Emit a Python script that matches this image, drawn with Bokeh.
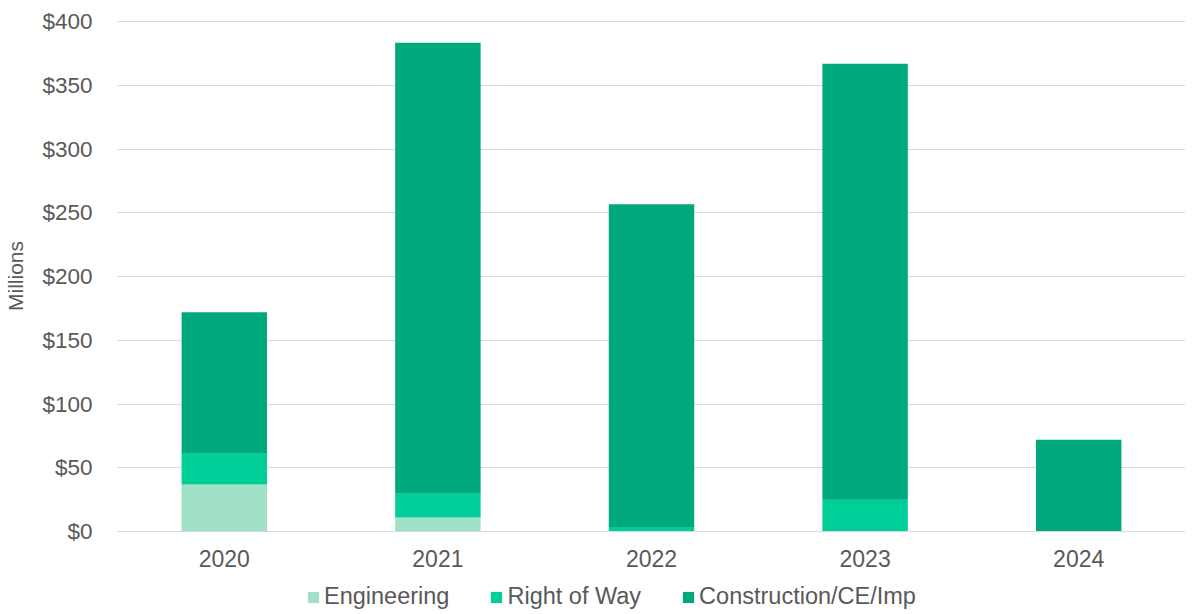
from bokeh.plotting import figure
from bokeh.layouts import column
from bokeh.models import Legend, NumeralTickFormatter, FixedTicker, Range1d
from bokeh.embed import file_html
from bokeh.resources import INLINE

years = ["2020", "2021", "2022", "2023", "2024"]
engineering = [36.8, 11.0, 0.0, 0.0, 0.0]
right_of_way = [24.3, 18.7, 3.5, 25.0, 0.0]
construction = [111.0, 353.9, 253.3, 342.0, 72.0]
series = ["Engineering", "Right of Way", "Construction/CE/Imp"]
colors = ["#A1E1C7", "#00CE99", "#00A87E"]
y_ticks = [0, 50, 100, 150, 200, 250, 300, 350, 400]

data = {"year": years, "Engineering": engineering,
        "Right of Way": right_of_way, "Construction/CE/Imp": construction}

font = "Liberation Sans"
gray = "#595959"

p = figure(x_range=years, width=1185, height=580, output_backend="svg",
           toolbar_location=None, min_border_left=117, min_border_right=0,
           min_border_top=20, min_border_bottom=49)
p.y_range = Range1d(0, 401)
p.vbar_stack(series, x="year", width=0.4, color=colors, source=data,
             line_color=None)

p.outline_line_color = None
p.xgrid.grid_line_color = None
p.ygrid.grid_line_color = "#D9D9D9"
p.ygrid.grid_line_width = 1
p.yaxis.ticker = FixedTicker(ticks=y_ticks)
p.yaxis.formatter = NumeralTickFormatter(format="$0")
p.yaxis.axis_line_color = None
p.yaxis.major_tick_line_color = None
p.yaxis.minor_tick_line_color = None
p.yaxis.major_label_standoff = 19
p.yaxis.major_label_text_font_size = "22.5px"
p.yaxis.axis_label = "Millions"
p.yaxis.axis_label_text_font = font
p.yaxis.axis_label_text_font_style = "normal"
p.yaxis.axis_label_text_font_size = "21px"
p.yaxis.axis_label_text_color = gray
p.yaxis.axis_label_standoff = 12
p.xaxis.axis_line_color = "#D9D9D9"
p.xaxis.major_tick_line_color = None
p.xaxis.minor_tick_line_color = None
p.xaxis.major_label_standoff = 12
p.xaxis.major_label_text_font_size = "23px"
for ax in (p.xaxis, p.yaxis):
    ax.major_label_text_font = font
    ax.major_label_text_color = gray

# legend strip below the chart
q = figure(x_range=years, y_range=Range1d(1000, 1001), width=1185, height=32,
           output_backend="svg", toolbar_location=None,
           x_axis_location=None, y_axis_location=None,
           min_border_left=0, min_border_right=0, min_border_top=0,
           min_border_bottom=0)
q.outline_line_color = None
q.grid.grid_line_color = None
rq = q.vbar_stack(series, x="year", width=0.4, color=colors, source=data,
                  line_color=None)

legend = Legend(items=[(s, [rr]) for s, rr in zip(series, rq)],
                orientation="horizontal", location=(189, 2))
legend.label_text_font = font
legend.label_text_font_size = "23.5px"
legend.label_text_color = gray
legend.glyph_width = 14
legend.glyph_height = 14
legend.label_standoff = 4
legend.spacing = 40
legend.padding = 0
legend.margin = 0
legend.border_line_color = None
legend.background_fill_alpha = 0
q.add_layout(legend, "center")

layout = column(p, q, spacing=0)
open("out.html", "w").write(file_html(layout, INLINE))
